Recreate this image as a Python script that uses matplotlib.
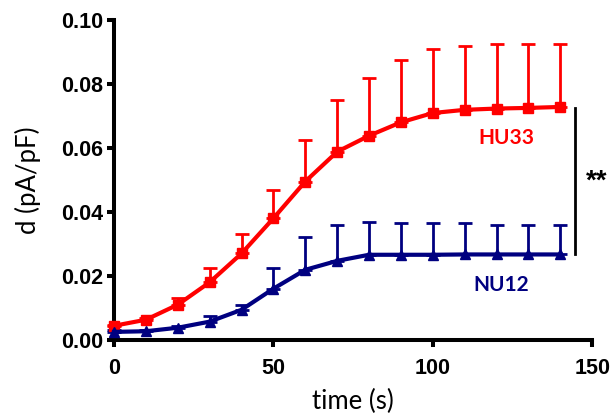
import numpy as np
import matplotlib.pyplot as plt

# time points (s)
t = np.arange(0, 150, 10)

# HU33 mean and upper SD
hu33 = [0.0044, 0.0063, 0.011, 0.018, 0.027, 0.038, 0.0495, 0.0588, 0.0638,
        0.068, 0.0709, 0.0719, 0.0723, 0.0725, 0.0728]
hu33_top = [0.0048, 0.0068, 0.013, 0.0225, 0.033, 0.047, 0.0625, 0.075, 0.082,
            0.0875, 0.091, 0.092, 0.0925, 0.0925, 0.0925]

# NU12 mean and upper SD
nu12 = [0.0025, 0.0027, 0.0038, 0.0057, 0.0094, 0.016, 0.0219, 0.0247, 0.0266,
        0.0266, 0.0266, 0.0267, 0.0267, 0.0267, 0.0267]
nu12_top = [0.003, 0.0031, 0.0042, 0.0076, 0.011, 0.0226, 0.0323, 0.036, 0.0369,
            0.0366, 0.0366, 0.0365, 0.036, 0.0358, 0.0358]

red = '#ff0000'
navy = '#000080'

fig = plt.figure(figsize=(6.13, 4.15), dpi=100)
ax = fig.add_axes([0.186, 0.181, 0.78, 0.771])

hu_err = np.array(hu33_top) - np.array(hu33)
nu_err = np.array(nu12_top) - np.array(nu12)

ax.errorbar(t, hu33, yerr=[np.zeros(len(t)), hu_err], fmt='none', ecolor=red,
            elinewidth=2, capsize=5, capthick=2, zorder=2, clip_on=False)
ax.errorbar(t, nu12, yerr=[np.zeros(len(t)), nu_err], fmt='none', ecolor=navy,
            elinewidth=2, capsize=5, capthick=2, zorder=2, clip_on=False)

ax.plot(t, hu33, color=red, lw=3, marker='s', ms=6.5, zorder=3, clip_on=False)
ax.plot(t, nu12, color=navy, lw=3, marker='^', ms=7.5, zorder=3, clip_on=False)

ax.set_xlim(0, 150)
ax.set_ylim(0, 0.10)
ax.set_xticks([0, 50, 100, 150])
ax.set_yticks([0, 0.02, 0.04, 0.06, 0.08, 0.10])
ax.set_yticklabels(['0.00', '0.02', '0.04', '0.06', '0.08', '0.10'])

for s in ['top', 'right']:
    ax.spines[s].set_visible(False)
for s in ['left', 'bottom']:
    ax.spines[s].set_linewidth(2.9)
ax.tick_params(width=2.9, length=5, labelsize=15.5)
ax.tick_params(axis='x', pad=8)
ax.tick_params(axis='y', pad=3)
for lab in ax.get_xticklabels() + ax.get_yticklabels():
    lab.set_fontfamily('Liberation Sans')
    lab.set_fontweight('bold')

ax.set_xlabel('time (s)', fontsize=18.5, family='Lato', labelpad=7)
ax.set_ylabel('d (pA/pF)', fontsize=18.5, family='Lato', labelpad=14)

ax.text(123, 0.063, 'HU33', color=red, fontsize=15, fontweight='bold',
        family='Lato', ha='center', va='center')
ax.text(121.5, 0.0172, 'NU12', color=navy, fontsize=15, fontweight='bold',
        family='Lato', ha='center', va='center')

# significance bracket
ax.plot([144.6, 144.6], [0.0269, 0.0725], color='black', lw=2, clip_on=False)
ax.text(151.5, 0.0494, '**', fontsize=20, fontweight='bold', ha='center',
        va='center', family='Liberation Sans')

fig.savefig('out.png', dpi=100)
